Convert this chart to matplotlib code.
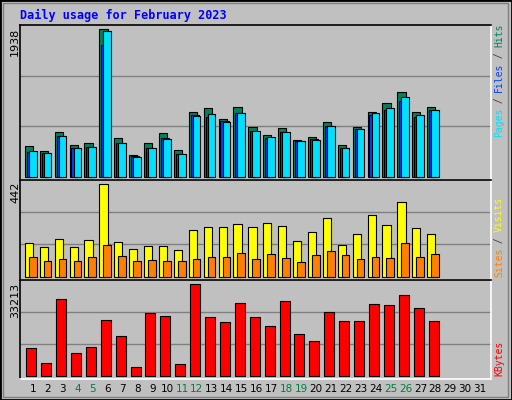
import numpy as np
import matplotlib.pyplot as plt

days = np.arange(1, 29)
all_days = np.arange(1, 32)
weekend_days = [4, 5, 11, 12, 18, 19, 25, 26]

hits = [405, 340, 588, 419, 443, 1938, 509, 285, 443, 575, 351, 851, 903, 759, 917, 654, 548, 640, 482, 522, 720, 419, 654, 851, 969, 1114, 851, 917]
files = [329, 307, 535, 377, 390, 1736, 443, 267, 377, 513, 298, 811, 789, 732, 838, 601, 509, 588, 469, 496, 667, 377, 627, 811, 877, 995, 785, 877]
pages = [338, 307, 535, 377, 390, 1912, 443, 259, 377, 496, 298, 798, 824, 719, 838, 601, 522, 588, 469, 482, 667, 377, 627, 833, 903, 1048, 811, 877]
visits = [160, 140, 179, 140, 174, 442, 164, 131, 145, 145, 126, 222, 236, 236, 250, 236, 255, 241, 169, 212, 279, 150, 203, 294, 246, 356, 231, 203]
sites = [93, 73, 83, 73, 93, 150, 97, 73, 78, 73, 73, 83, 93, 93, 112, 83, 107, 88, 69, 102, 121, 102, 83, 93, 88, 160, 93, 107]
kbytes = [9940, 4485, 27759, 8122, 10304, 20123, 14304, 3031, 22669, 21578, 4122, 33213, 21214, 19396, 26305, 21214, 17941, 27032, 15032, 12486, 23032, 19759, 19759, 25941, 25578, 29214, 24487, 19759]

BG = '#C0C0C0'
W, H = 512, 400

fig = plt.figure(figsize=(W / 100, H / 100), dpi=100, facecolor=BG)

# outer bevel
fig.patches.append(plt.Rectangle((0, 0), 1, 1, transform=fig.transFigure, fill=False,
                                 edgecolor='black', linewidth=2))
fig.patches.append(plt.Rectangle((0.006, 0.008), 0.986, 0.984, transform=fig.transFigure, fill=False,
                                 edgecolor='#808080', linewidth=1))

x_left, x_right = 20, 491
xlim = (1 - 13 / 14.9, 31 + 11 / 14.9)


def make_panel(top, base, bottom, max_px, max_val):
    s = max_val / max_px
    ax = fig.add_axes([x_left / W, 1 - bottom / H, (x_right - x_left) / W, (bottom - top) / H])
    ax.set_facecolor(BG)
    ax.set_xlim(*xlim)
    ax.set_ylim(-(bottom - base) * s, (base - top) * s)
    for g in (1, 2):
        ax.axhline(g * (base - top) / 3 * s, color='#808080', linewidth=1, zorder=0)
    ax.set_xticks([])
    ax.set_yticks([])
    ax.spines['top'].set_color('black')
    ax.spines['left'].set_color('black')
    ax.spines['bottom'].set_color('white')
    ax.spines['right'].set_color('white')
    for sp in ax.spines.values():
        sp.set_linewidth(1.2)
    return ax


def rotated_label(x, y_bottom, parts, size=7, step=5.6):
    y = y_bottom
    for txt, col in parts:
        fig.text(x / W, 1 - y / H, txt, rotation=90, ha='center', va='bottom', color=col,
                 fontsize=size, family='DejaVu Sans Mono')
        y -= len(txt) * step


# top panel: hits / files / pages
ax1 = make_panel(25, 176.7, 180, 147.3, 1938)
ax1.bar(days - 0.55, hits, width=0.55, align='edge', color='#00805C', edgecolor='black', linewidth=0.8)
ax1.bar(days - 0.42, files, width=0.55, align='edge', color='#0040FF', edgecolor='black', linewidth=0.8)
ax1.bar(days - 0.28, pages, width=0.52, align='edge', color='#00E0FF', edgecolor='black', linewidth=0.8)

# middle panel: visits / sites
ax2 = make_panel(180, 276.7, 280, 92.3, 442)
ax2.bar(days - 0.55, visits, width=0.55, align='edge', color='#FFFF00', edgecolor='black', linewidth=0.8)
ax2.bar(days - 0.28, sites, width=0.52, align='edge', color='#FF8000', edgecolor='black', linewidth=0.8)

# bottom panel: kbytes
ax3 = make_panel(280, 375.7, 379, 91.3, 33213)
ax3.bar(days - 0.45, kbytes, width=0.67, align='edge', color='#FF0000', edgecolor='black', linewidth=0.8)

fig.text(20 / W, 1 - 15 / H, 'Daily usage for February 2023', color='#0000FF', fontsize=8.5,
         fontweight='bold', family='DejaVu Sans Mono', va='center')

for txt, yb in (('1938', 56), ('442', 203), ('33213', 318)):
    fig.text(15 / W, 1 - yb / H, txt, rotation=90, ha='center', va='bottom', fontsize=8,
             family='DejaVu Sans')

rotated_label(499, 137, [('Pages', '#00E0FF'), (' / ', '#404040'), ('Files', '#0040FF'),
                         (' / ', '#404040'), ('Hits', '#00805C')])
rotated_label(499, 277, [('Sites', '#FF8000'), (' / ', '#404040'), ('Visits', '#FFFF00')])
rotated_label(499, 376, [('KBytes', '#FF0000')])

for d in all_days:
    xp = x_left + (d - xlim[0]) / (xlim[1] - xlim[0]) * (x_right - x_left)
    col = '#008040' if d in weekend_days else 'black'
    fig.text(xp / W, 1 - 389 / H, str(d), ha='center', va='center', fontsize=7.5, color=col)

fig.savefig('out.png', dpi=100, facecolor=BG)
